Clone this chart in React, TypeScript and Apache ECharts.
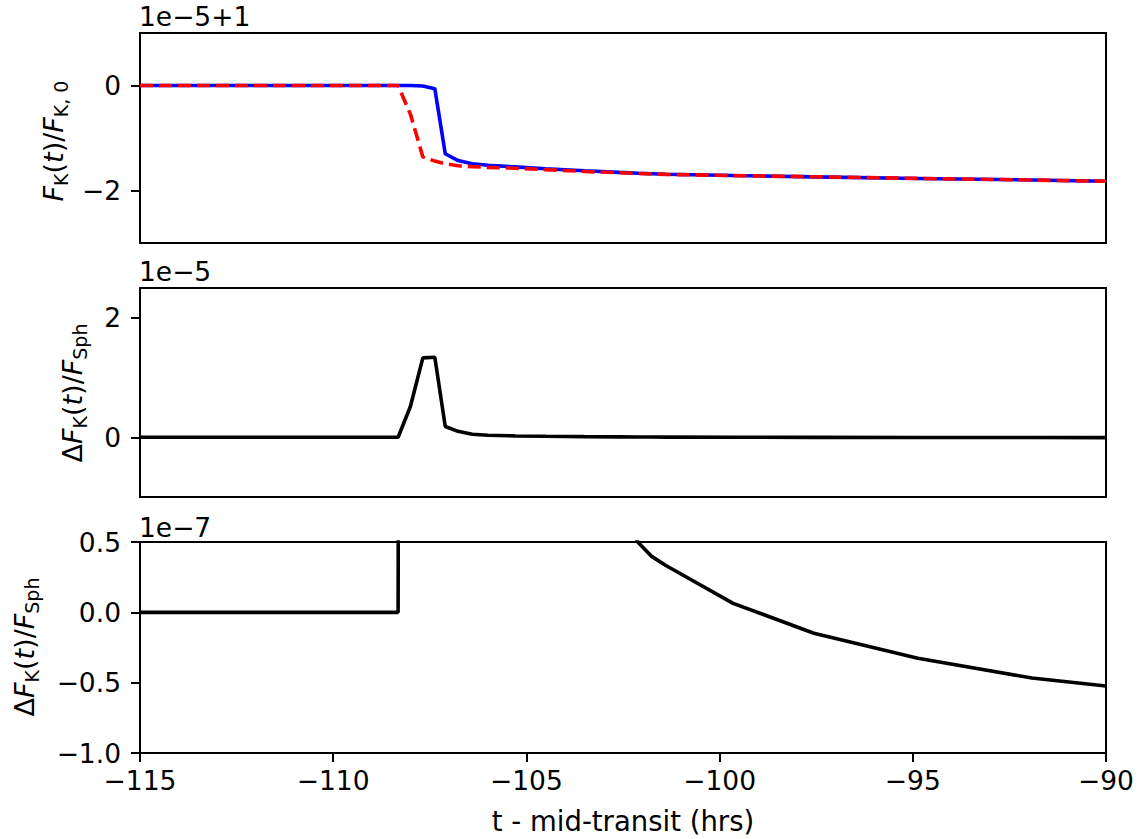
import React, { useEffect, useRef } from "react";
import * as echarts from "echarts";

// time grid (hours from mid-transit)
const tGrid = [-115, -108.32, -108.0, -107.68, -107.37, -107.1, -106.77, -106.4, -106.0, -105.3, -104.5, -103.5, -102.6, -102.1, -101.75, -101.39, -99.65, -97.56, -94.87, -91.92, -90];
// normalised flux, in units of 1e-5, offset +1
const fluxBlue = [0, 0, 0, -0.01, -0.06, -1.3, -1.43, -1.49, -1.52, -1.55, -1.585, -1.625, -1.655, -1.67, -1.68, -1.69, -1.715, -1.74, -1.77, -1.8, -1.825];
const fluxRed = [0, 0, -0.55, -1.36, -1.44, -1.49, -1.53, -1.545, -1.56, -1.575, -1.603, -1.637, -1.662, -1.675, -1.684, -1.693, -1.716, -1.738, -1.77, -1.8, -1.825];
// flux difference, in units of 1e-7
const deltaFlux = [0, 0, 52, 133, 134, 18, 10, 5, 3.5, 2.4, 1.7, 1.1, 0.72, 0.495, 0.396, 0.333, 0.064, -0.149, -0.326, -0.467, -0.524];

const xTicks = [-115, -110, -105, -100, -95, -90];
const topTicks = [0, -2];
const midTicks = [0, 2];

const FONT = "DejaVu Sans";
const minus = (s: string) => s.replace("-", "\u2212");

export default function App() {
  const ref = useRef<HTMLDivElement>(null);
  useEffect(() => {
    if (!ref.current) return;
    const chart = echarts.init(ref.current, undefined, { renderer: "svg" });
    const gridsPos = [
      { top: 33, height: 210 },
      { top: 288, height: 209 },
      { top: 542, height: 211 },
    ];
    const grid = gridsPos.map((g) => ({
      left: 140,
      width: 966,
      top: g.top,
      height: g.height,
      show: true,
      borderColor: "#000",
      borderWidth: 2,
      backgroundColor: "transparent",
      containLabel: false,
    }));
    const tickStyle = { show: true, length: 9, lineStyle: { color: "#000", width: 2 } };
    const labelBase = { color: "#000", fontFamily: FONT, fontSize: 26.5 };
    const xAxis = [0, 1, 2].map((i) => ({
      type: "value",
      gridIndex: i,
      min: -115,
      max: -90,
      interval: 5,
      axisLine: { show: false, onZero: false },
      axisTick: { ...tickStyle, show: i === 2, customValues: xTicks },
      axisLabel: {
        ...labelBase,
        show: i === 2,
        margin: 14,
        customValues: xTicks,
        formatter: (v: number) => minus(String(v)),
      },
      splitLine: { show: false },
    }));
    const yAxis = [
      {
        type: "value",
        gridIndex: 0,
        min: -3,
        max: 1,
        axisLine: { show: false, onZero: false },
        axisTick: { ...tickStyle, customValues: topTicks },
        axisLabel: { ...labelBase, margin: 19, customValues: topTicks, formatter: (v: number) => minus(String(v)) },
        splitLine: { show: false },
      },
      {
        type: "value",
        gridIndex: 1,
        min: -1,
        max: 2.5,
        axisLine: { show: false, onZero: false },
        axisTick: { ...tickStyle, customValues: midTicks },
        axisLabel: { ...labelBase, margin: 19, customValues: midTicks, formatter: (v: number) => minus(String(v)) },
        splitLine: { show: false },
      },
      {
        type: "value",
        gridIndex: 2,
        min: -1,
        max: 0.5,
        interval: 0.5,
        axisLine: { show: false, onZero: false },
        axisTick: { ...tickStyle },
        axisLabel: { ...labelBase, margin: 19, formatter: (v: number) => minus(v.toFixed(1)) },
        splitLine: { show: false },
      },
    ];
    const pairs = (ys: number[], scale = 1) => tGrid.map((t, i) => [t, ys[i] * scale]);
    const LW = 3.6;
    const series = [
      {
        type: "line",
        xAxisIndex: 0,
        yAxisIndex: 0,
        data: pairs(fluxBlue),
        showSymbol: false,
        lineStyle: { color: "#0000ff", width: LW },
        clip: true,
      },
      {
        type: "line",
        xAxisIndex: 0,
        yAxisIndex: 0,
        data: pairs(fluxRed),
        showSymbol: false,
        lineStyle: { color: "#ff0000", width: LW, type: [13, 6] },
        clip: true,
      },
      {
        type: "line",
        xAxisIndex: 1,
        yAxisIndex: 1,
        data: pairs(deltaFlux, 0.01),
        showSymbol: false,
        lineStyle: { color: "#000", width: LW },
        clip: true,
      },
      {
        type: "line",
        xAxisIndex: 2,
        yAxisIndex: 2,
        data: pairs(deltaFlux),
        showSymbol: false,
        lineStyle: { color: "#000", width: LW },
        clip: true,
      },
    ];
    const rich = {
      i: { fontFamily: FONT, fontStyle: "italic", fontSize: 27, lineHeight: 34, fill: "#000" },
      n: { fontFamily: FONT, fontSize: 27, lineHeight: 34, fill: "#000" },
      s: { fontFamily: FONT, fontSize: 19, lineHeight: 22, verticalAlign: "bottom", fill: "#000" },
    };
    const yLabel = (x: number, y: number, text: string) => ({
      type: "text",
      x,
      y,
      rotation: Math.PI / 2,
      style: { text, rich, align: "center", verticalAlign: "middle", fill: "#000" },
    });
    const offText = (y: number, text: string) => ({
      type: "text",
      x: 139,
      y,
      style: { text, fontFamily: FONT, fontSize: 26.5, fill: "#000", align: "left", verticalAlign: "middle" },
    });
    const graphic = [
      yLabel(53, 141, "{i|F}{s|K}{n|(}{i|t}{n|)/}{i|F}{s|K, 0}"),
      yLabel(72, 393, "{n|\u0394}{i|F}{s|K}{n|(}{i|t}{n|)/}{i|F}{s|Sph}"),
      yLabel(24, 647, "{n|\u0394}{i|F}{s|K}{n|(}{i|t}{n|)/}{i|F}{s|Sph}"),
      offText(16, "1e\u22125+1"),
      offText(271, "1e\u22125"),
      offText(527, "1e\u22127"),
      {
        type: "text",
        x: 623,
        y: 821,
        style: { text: "t - mid-transit (hrs)", fontFamily: FONT, fontSize: 27.5, fill: "#000", align: "center", verticalAlign: "middle" },
      },
    ];
    chart.setOption({
      animation: false,
      backgroundColor: "#fff",
      textStyle: { fontFamily: FONT },
      grid,
      xAxis,
      yAxis,
      series,
      graphic,
    });
    return () => chart.dispose();
  }, []);
  return <div ref={ref} style={{ position: "absolute", left: 0, top: 0, width: 1142, height: 839 }} />;
}
